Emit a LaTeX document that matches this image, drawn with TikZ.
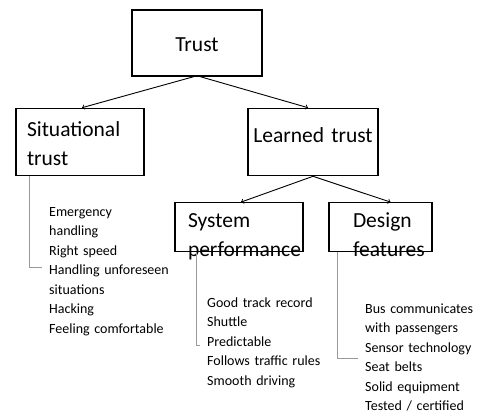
\documentclass[tikz,border=0pt]{standalone}
\usepackage{fontspec}
\setmainfont{Carlito}
\hyphenpenalty=10000
\begin{document}
\begin{tikzpicture}[x=1pt,y=-1pt,
		box/.style={draw, line width=1.2pt, inner ysep=0pt, align=left, font=\fontsize{21.5}{29}\selectfont},
		itemlist/.style={anchor=north west, inner xsep=7pt, inner ysep=0pt, text width=140pt, text height=10pt, align=left, font=\fontsize{14}{19.5}\selectfont},
		hook/.style={draw=black!40, line width=0.9pt},
		link/.style={->, line width=0.9pt}]
	\useasboundingbox (0,0) rectangle (481,414);
	% the tree of boxes
	\node [box, inner xsep=0pt, text width=130pt, align=center, text height=41.7pt, text depth=24.3pt] (trust) at (197,43) {Trust};
	\node [box, inner xsep=11pt, text width=106pt, text height=28.4pt, text depth=39pt] (situational) at (80,142) {Situational\\trust};
	\node [box, inner xsep=0pt, text width=130pt, align=center, text height=34.4pt, text depth=33pt] (learned) at (313,142) {Learned trust};
	\node [box, inner xsep=13pt, text width=102pt, text height=25pt, text depth=24pt] (system) at (239,227.2) {System\\performance};
	\node [box, inner xsep=24pt, text width=55pt, text height=25pt, text depth=24pt] (design) at (380.5,227.2) {Design\\features};
	\draw [link] ([xshift=-3pt]trust.south) -- ([xshift=2pt]situational.north);
	\draw [link] ([xshift=3pt]trust.south) -- ([xshift=-5pt]learned.north);
	\draw [link] (learned.south) -- ([xshift=2pt]system.north);
	\draw [link] (learned.south) -- ([xshift=10pt]design.north);
	% lists under the boxes
	\node [itemlist, text depth=112pt] (situationallist) at (42,206) {Emergency\\handling\\Right speed\\Handling unforeseen\\situations\\Hacking\\Feeling comfortable};
	\node [itemlist, text depth=86pt] (systemlist) at (200,297) {Good track record\\Shuttle\\Predictable\\Follows traffic rules\\Smooth driving};
	\node [itemlist, text depth=100pt] (designlist) at (358,303) {Bus communicates\\with passengers\\Sensor technology\\Seat belts\\Solid equipment\\Tested / certified};
	\draw [hook] ([xshift=14pt]situational.south west) |- (situationallist.west);
	\draw [hook] ([xshift=22pt]system.south west) |- (systemlist.west);
	\draw [hook] ([xshift=9pt]design.south west) |- (designlist.west);
\end{tikzpicture}
\end{document}
